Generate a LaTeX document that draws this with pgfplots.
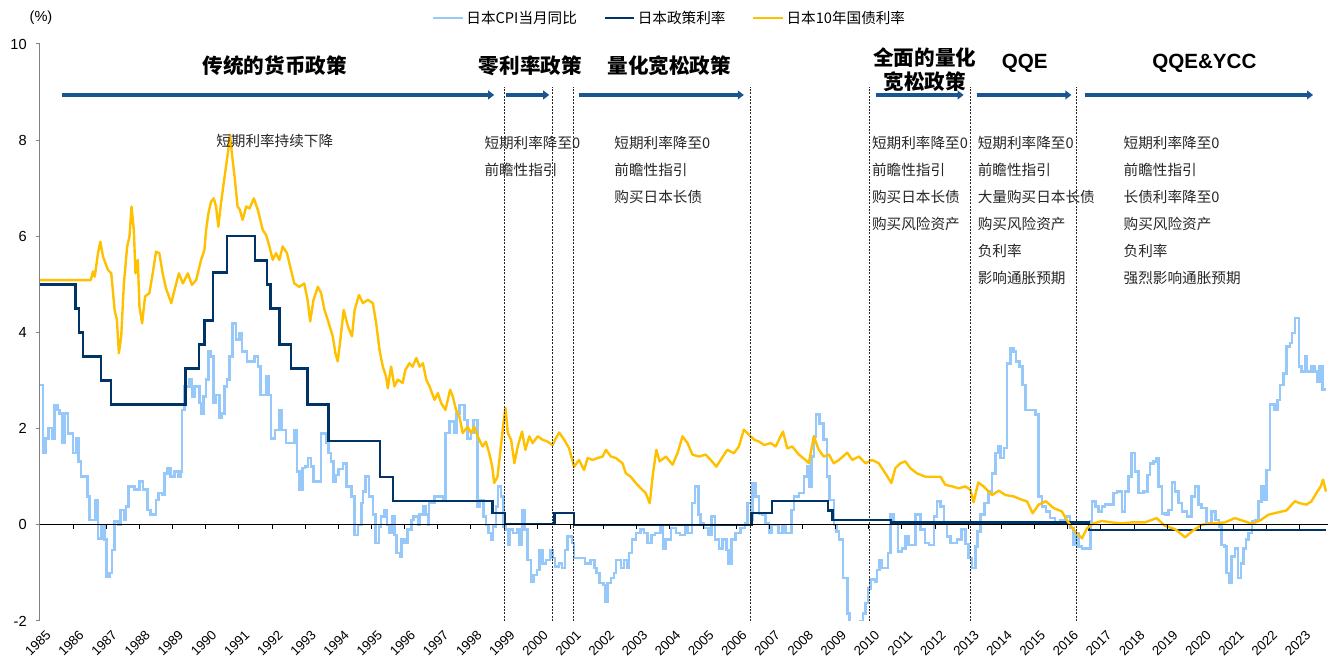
\documentclass[border=0pt]{standalone}
\usepackage{fontspec}
\setmainfont{Liberation Sans}
\newfontfamily\cjk{Noto Sans CJK SC}
\usepackage{pgfplots}
\pgfplotsset{compat=1.18}
\usetikzlibrary{arrows.meta}
\definecolor{cpiblue}{RGB}{150,200,250}
\definecolor{polnavy}{RGB}{0,51,102}
\definecolor{jgbgold}{RGB}{255,192,0}
\definecolor{arrblue}{RGB}{25,85,145}
\tikzset{
  note/.style={anchor=west, inner sep=0pt, font=\cjk\fontsize{11}{13}\selectfont, text=black!85},
  ttl/.style={anchor=center, inner sep=0pt, font=\cjk\bfseries\fontsize{15.5}{18}\selectfont},
  vline/.style={black!85, line width=0.6bp, dash pattern=on 1.5bp off 1bp},
  arr/.style={arrblue, line width=2.7bp, -{Triangle[length=4.5bp,width=6.5bp]}},
}
\begin{document}
\begin{tikzpicture}
\useasboundingbox (-30bp,-32.25bp) rectangle (969.75bp,465.75bp);
\begin{axis}[
  at={(0,0)}, anchor=south west,
  scale only axis, width=966bp, height=432.75bp,
  xmin=1985, xmax=2023.85, ymin=-2, ymax=10,
  axis x line*=bottom, axis y line*=left,
  x axis line style={draw=none},
  y axis line style={draw=black!50, line width=0.75bp},
  xtick={1985,...,2023},
  ytick={-2,0,...,10},
  xtick style={draw=none},
  ytick style={draw=black!50, line width=0.75bp},
  tick align=outside, major tick length=3bp,
  /pgf/number format/assume math mode=true,
  /pgf/number format/1000 sep={},
  xticklabel style={rotate=45, anchor=east, inner sep=0pt, yshift=-8.5bp, xshift=0.5bp, font=\fontsize{10}{12}\selectfont},
  yticklabel style={inner sep=0pt, xshift=-6.75bp, font=\fontsize{11}{13}\selectfont},
  legend columns=3,
  legend style={at={(0.489,1.045)}, anchor=center, draw=none, fill=none,
    font=\cjk\fontsize{11}{13}\selectfont,
    /tikz/every even column/.append style={column sep=18bp}},
  legend image code/.code={\draw[#1] (0bp,0bp) -- (22bp,0bp);},
]
\addplot[const plot, mark=none, cpiblue, line width=1.9bp] coordinates {
(1985.0,2.91) (1985.09,1.49) (1985.16,1.8) (1985.26,2.01) (1985.36,1.8) (1985.44,2.49) (1985.52,2.39) (1985.59,2.32) (1985.66,1.7) (1985.74,2.32) (1985.84,1.9) (1985.99,1.49)
(1986.09,1.8) (1986.16,1.32) (1986.24,1.0) (1986.43,0.59) (1986.5,0.1) (1986.67,0.52) (1986.75,-0.28) (1986.85,0.0) (1986.95,-0.31)
(1987.0,-1.07) (1987.1,-1.0) (1987.17,-0.52) (1987.25,0.07) (1987.35,0.0) (1987.43,0.31) (1987.53,0.1) (1987.6,0.38) (1987.67,0.8) (1987.85,0.73)
(1988.0,0.9) (1988.1,0.73) (1988.25,0.31) (1988.33,0.21) (1988.5,0.52) (1988.57,0.66) (1988.7,0.62) (1988.75,1.07) (1988.85,1.18) (1988.93,1.0)
(1989.06,1.11) (1989.16,1.0) (1989.24,1.11) (1989.28,2.39) (1989.36,2.88) (1989.51,3.02) (1989.58,2.67) (1989.66,2.88) (1989.81,2.53) (1989.86,2.32) (1989.93,2.67)
(1990.01,3.02) (1990.08,3.6) (1990.16,3.5) (1990.23,2.53) (1990.31,2.7) (1990.41,2.22) (1990.48,2.32) (1990.56,2.88) (1990.64,3.02) (1990.71,3.5) (1990.81,4.19) (1990.91,3.85)
(1991.01,3.98) (1991.09,3.6) (1991.25,3.4) (1991.47,3.5) (1991.57,3.29) (1991.65,2.7) (1991.82,3.08) (1991.89,2.7) (1991.97,1.8)
(1992.09,1.97) (1992.22,2.39) (1992.29,1.97) (1992.42,1.7) (1992.67,1.97) (1992.75,1.11) (1992.82,0.73) (1992.92,1.18) (1992.99,1.21)
(1993.09,1.39) (1993.17,1.21) (1993.25,0.9) (1993.47,1.9) (1993.63,1.7) (1993.7,1.49) (1993.78,1.32) (1993.85,0.9) (1993.93,1.04)
(1994.0,1.16) (1994.14,1.28) (1994.24,0.8) (1994.39,0.59) (1994.49,-0.21) (1994.59,0.0) (1994.69,0.45) (1994.74,0.69) (1994.82,1.0) (1994.92,0.59)
(1995.04,0.21) (1995.12,-0.38) (1995.22,-0.04) (1995.29,0.17) (1995.39,0.31) (1995.46,0.0) (1995.54,-0.17) (1995.62,0.17) (1995.69,-0.21) (1995.76,-0.59) (1995.86,-0.66) (1995.91,-0.31) (1995.99,-0.38)
(1996.09,-0.1) (1996.2,0.1) (1996.27,0.17) (1996.4,0.0) (1996.45,0.21) (1996.55,0.38) (1996.63,0.21) (1996.7,0.0) (1996.73,0.45) (1996.9,0.59)
(1997.15,0.52) (1997.23,1.91) (1997.35,2.15) (1997.5,1.91) (1997.57,2.32) (1997.65,2.49) (1997.8,2.18) (1997.9,1.8)
(1998.0,1.91) (1998.07,2.18) (1998.2,0.38) (1998.25,0.52) (1998.37,0.17) (1998.45,0.0) (1998.53,-0.17) (1998.6,-0.31) (1998.67,-0.04) (1998.76,0.38) (1998.81,0.8) (1998.91,0.59) (1998.98,-0.04)
(1999.06,-0.1) (1999.11,-0.42) (1999.18,-0.1) (1999.26,-0.17) (1999.41,-0.1) (1999.46,-0.42) (1999.54,0.31) (1999.61,-0.1) (1999.71,-0.73) (1999.81,-1.18) (1999.89,-1.04) (1999.99,-0.94)
(2000.06,-0.52) (2000.16,-0.8) (2000.26,-0.73) (2000.38,-0.52) (2000.46,-0.69) (2000.54,-0.87) (2000.66,-0.8) (2000.74,-0.9) (2000.84,-0.52) (2000.91,-0.24)
(2001.04,-0.38) (2001.11,-0.69) (2001.44,-0.8) (2001.61,-0.73) (2001.72,-0.9) (2001.79,-1.0) (2001.87,-1.21) (2001.99,-1.25)
(2002.04,-1.59) (2002.12,-1.21) (2002.22,-1.11) (2002.32,-1.0) (2002.37,-0.73) (2002.52,-0.9) (2002.62,-0.73) (2002.72,-0.9) (2002.77,-0.59) (2002.85,-0.31) (2002.97,-0.17)
(2003.12,-0.1) (2003.22,-0.17) (2003.32,-0.38) (2003.45,-0.21) (2003.55,-0.17) (2003.72,-0.03) (2003.79,-0.49) (2003.86,-0.31)
(2004.03,-0.07) (2004.18,-0.17) (2004.3,-0.21) (2004.46,-0.03) (2004.53,-0.17) (2004.66,0.45) (2004.76,0.8) (2004.86,0.21) (2004.93,0.03)
(2005.03,-0.07) (2005.16,-0.21) (2005.26,0.17) (2005.36,-0.31) (2005.48,-0.49) (2005.58,-0.31) (2005.7,-0.52) (2005.76,-0.8) (2005.86,-0.31) (2005.98,-0.17)
(2006.13,-0.07) (2006.27,0.03) (2006.34,0.45) (2006.44,0.1) (2006.49,0.87) (2006.58,0.59) (2006.69,0.24) (2006.79,0.21) (2006.89,0.03) (2006.99,-0.17)
(2007.07,0.0) (2007.27,-0.17) (2007.39,0.0) (2007.49,-0.17) (2007.67,0.31) (2007.74,0.59) (2007.89,0.66)
(2008.04,1.0) (2008.14,1.21) (2008.21,0.8) (2008.27,1.42) (2008.34,1.84) (2008.41,2.29) (2008.51,2.11) (2008.64,1.77) (2008.74,1.0) (2008.81,0.52) (2008.95,0.0)
(2009.02,-0.14) (2009.1,-0.31) (2009.22,-1.11) (2009.35,-1.84) (2009.42,-2.2) (2009.5,-2.4) (2009.58,-2.3) (2009.66,-2.5) (2009.74,-2.0) (2009.82,-1.84) (2009.9,-1.63) (2009.98,-1.32)
(2010.05,-1.14) (2010.18,-1.18) (2010.25,-0.94) (2010.32,-0.73) (2010.4,-0.9) (2010.58,-0.59) (2010.65,0.21) (2010.75,0.03) (2010.88,-0.56)
(2011.0,-0.49) (2011.1,-0.24) (2011.2,-0.42) (2011.41,0.21) (2011.56,-0.1) (2011.69,-0.38) (2011.81,-0.42) (2011.96,0.17)
(2012.06,0.49) (2012.16,0.38) (2012.26,0.03) (2012.36,-0.24) (2012.46,-0.38) (2012.66,-0.31) (2012.79,-0.1) (2012.91,-0.4)
(2013.01,-0.69) (2013.11,-0.9) (2013.21,-0.45) (2013.28,-0.14) (2013.36,0.21) (2013.49,0.45) (2013.61,0.69) (2013.72,1.07) (2013.82,1.49) (2013.9,1.63) (2013.97,1.39)
(2014.07,1.6) (2014.17,3.36) (2014.27,3.67) (2014.37,3.6) (2014.44,3.4) (2014.54,3.29) (2014.64,2.91) (2014.72,2.39)
(2015.02,2.29) (2015.12,0.59) (2015.22,0.38) (2015.34,0.28) (2015.47,0.14) (2015.62,0.03) (2015.77,0.1) (2015.92,0.17)
(2016.07,-0.07) (2016.17,-0.42) (2016.27,-0.17) (2016.33,-0.45) (2016.43,-0.49) (2016.68,0.07) (2016.73,0.49) (2016.83,0.38) (2016.93,0.28)
(2017.03,0.38) (2017.13,0.42) (2017.38,0.66) (2017.48,0.69) (2017.63,0.28) (2017.73,0.69) (2017.83,1.0) (2017.93,1.49)
(2018.03,1.11) (2018.13,0.66) (2018.28,0.69) (2018.41,1.04) (2018.48,1.28) (2018.58,1.32) (2018.68,1.39) (2018.73,0.8) (2018.84,0.24) (2018.94,0.21)
(2019.04,0.31) (2019.14,0.88) (2019.24,0.69) (2019.34,0.45) (2019.44,0.28) (2019.59,0.17) (2019.74,0.59) (2019.84,0.8) (2019.94,0.42)
(2020.04,0.35) (2020.19,0.03) (2020.34,0.28) (2020.46,0.1) (2020.56,-0.03) (2020.64,-0.42) (2020.72,-0.45) (2020.79,-1.0) (2020.86,-1.21) (2020.94,-0.66)
(2021.04,-0.49) (2021.14,-1.11) (2021.22,-0.8) (2021.3,-0.49) (2021.37,-0.31) (2021.45,-0.17) (2021.55,0.07) (2021.65,0.1) (2021.75,0.49) (2021.85,0.8) (2021.93,0.52)
(2022.0,1.14) (2022.1,2.5) (2022.23,2.39) (2022.33,2.6) (2022.4,2.91) (2022.5,3.15) (2022.6,3.71) (2022.7,3.78) (2022.77,3.99) (2022.85,4.3) (2022.97,3.29)
(2023.05,3.19) (2023.15,3.5) (2023.2,3.19) (2023.35,3.29) (2023.45,3.19) (2023.53,2.98) (2023.6,3.29) (2023.69,2.81) (2023.8,2.81)
};
\addlegendentry{日本CPI当月同比}
\addplot[const plot, mark=none, polnavy, line width=1.7bp] coordinates {
(1985,5.0) (1986.07,4.5) (1986.17,4.0) (1986.29,3.5) (1986.83,3.0) (1987.15,2.5) (1989.39,3.25) (1989.79,3.75) (1989.96,4.25) (1990.21,5.25) (1990.64,6.0)
(1991.49,5.5) (1991.85,5.0) (1991.95,4.5) (1992.22,3.75) (1992.57,3.25) (1993.07,2.5) (1993.7,1.75) (1995.26,1.0) (1995.64,0.5) (1998.65,0.25) (1999.03,0.02)
(2000.52,0.25) (2001.11,0.0) (2006.46,0.25) (2007.07,0.5) (2008.77,0.3) (2008.9,0.1) (2010.67,0.05) (2016.63,-0.1) (2023.8,-0.1)
};
\addlegendentry{日本政策利率}
\addplot[mark=none, jgbgold, line width=1.8bp, line join=round] coordinates {
(1985.0,5.09) (1986.53,5.09) (1986.6,5.27) (1986.65,5.16) (1986.75,5.65) (1986.82,5.89) (1986.9,5.58) (1987.05,5.30) (1987.15,5.23) (1987.25,4.47) (1987.32,4.26) (1987.38,3.57) (1987.45,3.92)
(1987.53,5.02) (1987.63,5.79) (1987.70,6.0) (1987.76,6.62) (1987.83,6.13) (1987.88,5.23) (1987.95,5.51) (1988.0,4.54) (1988.08,4.19) (1988.17,4.75) (1988.3,4.82) (1988.4,5.23) (1988.5,5.68)
(1988.6,5.65) (1988.7,5.23) (1988.8,4.92) (1988.96,4.61) (1989.06,4.89) (1989.19,5.23) (1989.31,5.02) (1989.46,5.23) (1989.58,4.99) (1989.71,5.09) (1989.86,5.51) (1989.96,5.72)
(1990.01,6.13) (1990.08,6.48) (1990.16,6.72) (1990.24,6.79) (1990.31,6.62) (1990.38,6.2) (1990.46,6.69) (1990.54,7.1) (1990.61,7.45) (1990.68,7.8) (1990.73,8.11) (1990.81,7.59) (1990.88,7.17) (1990.96,6.62)
(1991.03,6.55) (1991.11,6.34) (1991.22,6.62) (1991.32,6.58) (1991.45,6.79) (1991.57,6.55) (1991.72,6.13) (1991.82,6.03) (1991.92,5.79)
(1992.02,5.51) (1992.12,5.65) (1992.22,5.51) (1992.32,5.79) (1992.45,5.65) (1992.57,5.3) (1992.67,5.02) (1992.82,4.95) (1992.97,5.02)
(1993.07,4.68) (1993.15,4.23) (1993.25,4.68) (1993.38,4.95) (1993.48,4.82) (1993.58,4.47) (1993.68,4.26) (1993.83,3.92) (1993.91,3.57) (1993.98,3.4)
(1994.06,3.85) (1994.16,4.47) (1994.29,4.12) (1994.41,3.92) (1994.49,4.47) (1994.62,4.78) (1994.74,4.61) (1994.89,4.68)
(1995.04,4.61) (1995.14,4.19) (1995.24,3.64) (1995.34,3.29) (1995.44,3.08) (1995.49,2.84) (1995.59,3.29) (1995.69,2.88) (1995.79,3.02) (1995.94,2.95)
(1996.02,3.22) (1996.14,3.36) (1996.24,3.29) (1996.35,3.47) (1996.45,3.29) (1996.55,3.36) (1996.65,3.02) (1996.75,2.88) (1996.9,2.6)
(1997.0,2.74) (1997.1,2.53) (1997.23,2.39) (1997.37,2.81) (1997.45,2.67) (1997.55,2.39) (1997.65,2.25) (1997.75,1.91) (1997.9,2.04)
(1998.0,1.91) (1998.1,2.04) (1998.2,1.84) (1998.35,1.63) (1998.45,1.73) (1998.55,1.49) (1998.64,1.21) (1998.7,0.87) (1998.8,1.0) (1998.9,1.63) (1998.98,2.11)
(1999.04,2.43) (1999.11,1.91) (1999.21,1.77) (1999.31,1.28) (1999.41,1.63) (1999.54,1.94) (1999.64,1.56) (1999.76,1.84) (1999.86,1.7)
(2000.01,1.84) (2000.16,1.77) (2000.31,1.73) (2000.46,1.66) (2000.56,1.8) (2000.66,1.92) (2000.81,1.77) (2000.96,1.59)
(2001.11,1.21) (2001.26,1.35) (2001.41,1.14) (2001.52,1.39) (2001.67,1.35) (2001.82,1.39) (2001.97,1.42)
(2002.07,1.56) (2002.22,1.42) (2002.37,1.39) (2002.57,1.28) (2002.67,1.07) (2002.82,1.0) (2002.97,0.87)
(2003.12,0.76) (2003.27,0.66) (2003.39,0.45) (2003.49,1.07) (2003.59,1.56) (2003.69,1.32) (2003.88,1.42)
(2004.08,1.25) (2004.23,1.49) (2004.38,1.84) (2004.53,1.7) (2004.68,1.46) (2004.88,1.42)
(2005.08,1.46) (2005.23,1.35) (2005.4,1.21) (2005.53,1.35) (2005.73,1.56) (2005.93,1.49)
(2006.08,1.63) (2006.23,1.98) (2006.39,1.87) (2006.54,1.77) (2006.69,1.73) (2006.84,1.66)
(2007.04,1.7) (2007.19,1.63) (2007.41,1.94) (2007.54,1.59) (2007.69,1.63) (2007.89,1.46)
(2008.09,1.35) (2008.19,1.28) (2008.34,1.84) (2008.49,1.56) (2008.64,1.42) (2008.8,1.46) (2008.94,1.28)
(2009.1,1.35) (2009.35,1.5) (2009.5,1.35) (2009.7,1.42) (2009.9,1.28)
(2010.1,1.35) (2010.3,1.28) (2010.5,1.07) (2010.68,0.87) (2010.8,1.18) (2010.95,1.28)
(2011.1,1.32) (2011.25,1.18) (2011.45,1.07) (2011.71,1.0) (2011.91,1.0)
(2012.16,1.0) (2012.31,0.83) (2012.51,0.8) (2012.71,0.76) (2012.91,0.8)
(2013.06,0.73) (2013.16,0.47) (2013.3,0.88) (2013.46,0.8) (2013.72,0.62) (2013.92,0.71)
(2014.12,0.62) (2014.37,0.59) (2014.62,0.52) (2014.77,0.49) (2014.94,0.24)
(2015.12,0.42) (2015.34,0.49) (2015.57,0.35) (2015.82,0.28) (2015.97,0.1)
(2016.17,-0.1) (2016.43,-0.28) (2016.58,-0.07) (2016.78,0.03)
(2017.03,0.08) (2017.33,0.05) (2017.63,0.03) (2017.93,0.05)
(2018.33,0.05) (2018.68,0.14) (2018.93,-0.02)
(2019.24,-0.09) (2019.54,-0.26) (2019.74,-0.14)
(2020.04,0.0) (2020.34,0.03) (2020.74,0.05)
(2021.04,0.14) (2021.35,0.07) (2021.55,0.02) (2021.8,0.09)
(2022.05,0.21) (2022.35,0.26) (2022.6,0.3) (2022.85,0.49)
(2023.0,0.45) (2023.2,0.42) (2023.35,0.49) (2023.5,0.66) (2023.63,0.8) (2023.7,0.94) (2023.79,0.69)
};
\addlegendentry{日本10年国债利率}
% zero line with year ticks
\draw[black, line width=0.75bp] (axis cs:1985,0) -- (axis cs:2023.85,0);
\pgfplotsinvokeforeach{1986,...,2023}{\draw[black, line width=0.75bp] (axis cs:#1,0) -- ++(0pt,-3bp);}
% regime boundaries
\draw[vline] (axis cs:1999.01,-2) -- (axis cs:1999.01,9.1);
\draw[vline] (axis cs:2000.47,-2) -- (axis cs:2000.47,9.1);
\draw[vline] (axis cs:2001.10,-2) -- (axis cs:2001.10,9.1);
\draw[vline] (axis cs:2006.42,-2) -- (axis cs:2006.42,9.1);
\draw[vline] (axis cs:2010.02,-2) -- (axis cs:2010.02,9.1);
\draw[vline] (axis cs:2013.06,-2) -- (axis cs:2013.06,9.1);
\draw[vline] (axis cs:2016.25,-2) -- (axis cs:2016.25,9.1);
% arrows
\draw[arr] (axis cs:1985.66,8.94) -- (axis cs:1998.70,8.94);
\draw[arr] (axis cs:1999.07,8.94) -- (axis cs:2000.36,8.94);
\draw[arr] (axis cs:2001.27,8.94) -- (axis cs:2006.23,8.94);
\draw[arr] (axis cs:2010.21,8.94) -- (axis cs:2012.86,8.94);
\draw[arr] (axis cs:2013.25,8.94) -- (axis cs:2016.11,8.94);
\draw[arr] (axis cs:2016.51,8.94) -- (axis cs:2023.40,8.94);
% titles
\node[ttl] at (axis cs:1992.08,9.54) {传统的货币政策};
\node[ttl] at (axis cs:1999.79,9.54) {零利率政策};
\node[ttl] at (axis cs:2003.98,9.54) {量化宽松政策};
\node[ttl] at (axis cs:2011.69,9.71) {全面的量化};
\node[ttl] at (axis cs:2011.69,9.21) {宽松政策};
\node[anchor=center, inner sep=0pt, font=\bfseries\fontsize{15.5}{18}\selectfont] at (axis cs:2014.70,9.6) {QQE};
\node[anchor=center, inner sep=0pt, font=\bfseries\fontsize{15.5}{18}\selectfont] at (axis cs:2020.12,9.6) {QQE\&YCC};
% notes
\node[anchor=center, inner sep=0pt, font=\cjk\fontsize{11}{13}\selectfont, text=black!85] at (axis cs:1992.08,7.98) {短期利率持续下降};
\node[note] at (axis cs:1998.40,7.94) {短期利率降至0};
\node[note] at (axis cs:1998.40,7.38) {前瞻性指引};
\node[note] at (axis cs:2002.32,7.94) {短期利率降至0};
\node[note] at (axis cs:2002.32,7.38) {前瞻性指引};
\node[note] at (axis cs:2002.32,6.82) {购买日本长债};
\node[note] at (axis cs:2010.09,7.94) {短期利率降至0};
\node[note] at (axis cs:2010.09,7.38) {前瞻性指引};
\node[note] at (axis cs:2010.09,6.82) {购买日本长债};
\node[note] at (axis cs:2010.09,6.26) {购买风险资产};
\node[note] at (axis cs:2013.28,7.94) {短期利率降至0};
\node[note] at (axis cs:2013.28,7.38) {前瞻性指引};
\node[note] at (axis cs:2013.28,6.82) {大量购买日本长债};
\node[note] at (axis cs:2013.28,6.26) {购买风险资产};
\node[note] at (axis cs:2013.28,5.70) {负利率};
\node[note] at (axis cs:2013.28,5.14) {影响通胀预期};
\node[note] at (axis cs:2017.68,7.94) {短期利率降至0};
\node[note] at (axis cs:2017.68,7.38) {前瞻性指引};
\node[note] at (axis cs:2017.68,6.82) {长债利率降至0};
\node[note] at (axis cs:2017.68,6.26) {购买风险资产};
\node[note] at (axis cs:2017.68,5.70) {负利率};
\node[note] at (axis cs:2017.68,5.14) {强烈影响通胀预期};
\end{axis}
\node[inner sep=0pt, font=\fontsize{11}{13}\selectfont] at (0.75bp,452.25bp) {(\%)};
\end{tikzpicture}
\end{document}
